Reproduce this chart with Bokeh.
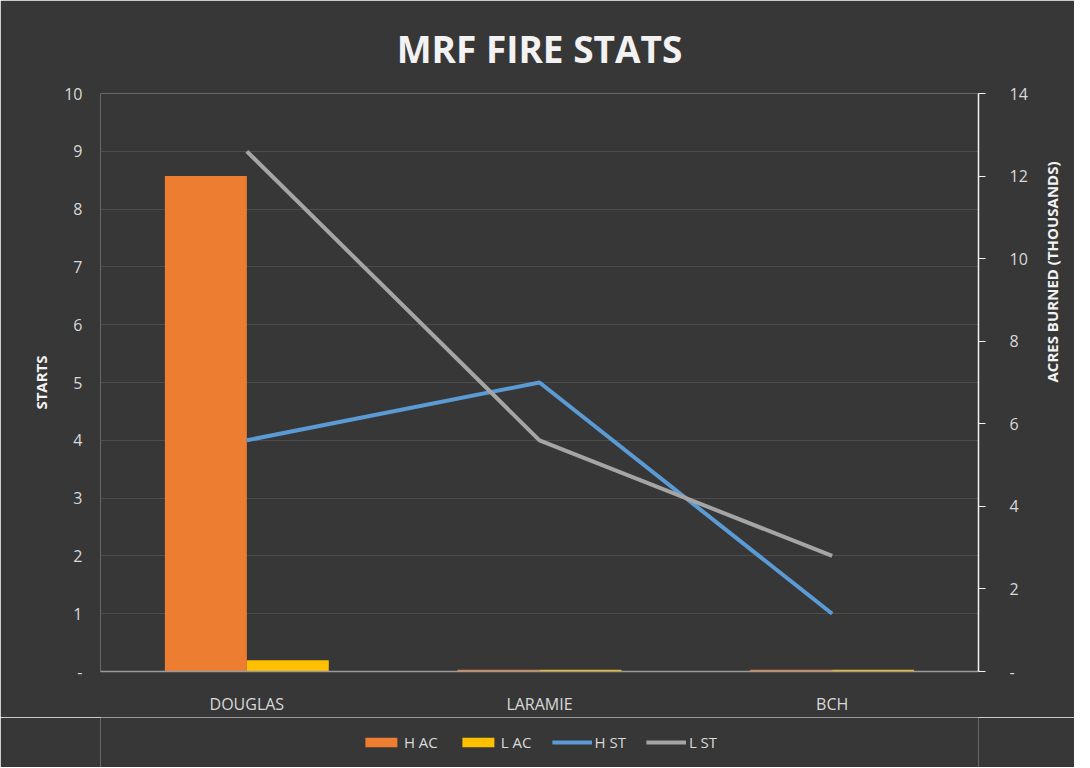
import math
from bokeh.plotting import figure
from bokeh.layouts import column
from bokeh.models import (Range1d, LinearAxis, FixedTicker, Legend, LegendItem,
                          FactorRange, ColumnDataSource)
from bokeh.transform import dodge
from bokeh.embed import file_html
from bokeh.resources import INLINE

categories = ["DOUGLAS", "LARAMIE", "BCH"]
h_ac = [12.0, 0.04, 0.04]      # thousands of acres (right axis)
l_ac = [0.27, 0.04, 0.04]
h_st = [4, 5, 1]               # starts (left axis)
l_st = [9, 4, 2]
left_ticks = [0, 1, 2, 3, 4, 5, 6, 7, 8, 9, 10]
right_ticks = [0, 2, 4, 6, 8, 10, 12, 14]
series_names = ["H AC", "L AC", "H ST", "L ST"]
series_colors = ["#ED7D31", "#FFC000", "#5B9BD5", "#A5A5A5"]

src = ColumnDataSource(dict(cat=categories, h_ac=h_ac, l_ac=l_ac, h_st=h_st, l_st=l_st))

BG = "#373737"
TXT = "#d9d9d9"
FONT = "Open Sans"


def hide_frame_lines(fig):
    fig.outline_line_color = BG
    fig.outline_line_alpha = 0
    fig.outline_line_width = 0


p = figure(frame_width=878, frame_height=578, x_range=FactorRange(*categories),
           y_range=Range1d(0, 10),
           output_backend="svg", toolbar_location=None,
           min_border_left=100, min_border_right=96, min_border_top=86, min_border_bottom=46)
p.background_fill_color = BG
p.border_fill_color = BG
hide_frame_lines(p)

p.title.text = "MRF FIRE STATS"
p.title.align = "center"
p.title.text_color = "#f2f2f2"
p.title.text_font = FONT
p.title.text_font_style = "bold"
p.title.text_font_size = "37px"
p.title.standoff = 40

p.extra_y_ranges = {"acres": Range1d(0, 14)}

# grid
p.xgrid.grid_line_color = None
p.ygrid.grid_line_color = "#4d4d4d"
p.ygrid.grid_line_width = 1
p.ygrid.ticker = FixedTicker(ticks=left_ticks[1:])

# left axis
ya = p.yaxis[0]
ya.ticker = FixedTicker(ticks=left_ticks)
ya.major_label_overrides = {0: "-"}
ya.axis_line_color = None
ya.axis_line_alpha = 0
ya.major_tick_line_color = None
ya.minor_tick_line_color = None
ya.major_label_text_color = TXT
ya.major_label_text_font = FONT
ya.major_label_text_font_size = "16px"
ya.major_label_standoff = 12
ya.axis_label = "STARTS"
ya.axis_label_text_color = "#f2f2f2"
ya.axis_label_text_font = FONT
ya.axis_label_text_font_style = "bold"
ya.axis_label_text_font_size = "15px"
ya.axis_label_standoff = 10

# right axis
ra = LinearAxis(y_range_name="acres", ticker=FixedTicker(ticks=right_ticks))
ra.major_label_overrides = {0: "-"}
ra.axis_line_color = "#f2f2f2"
ra.axis_line_width = 1.5
ra.major_tick_line_color = "#f2f2f2"
ra.major_tick_in = 0
ra.major_tick_out = 7
ra.minor_tick_line_color = None
ra.major_label_text_color = TXT
ra.major_label_text_font = FONT
ra.major_label_text_font_size = "16px"
ra.major_label_standoff = 24
ra.axis_label = "ACRES BURNED (THOUSANDS)"
ra.axis_label_text_color = "#f2f2f2"
ra.axis_label_text_font = FONT
ra.axis_label_text_font_style = "bold"
ra.axis_label_text_font_size = "15px"
ra.axis_label_standoff = 21
try:
    ra.axis_label_orientation = math.pi / 2
except Exception:
    pass
p.add_layout(ra, "right")

# x axis
xa = p.xaxis[0]
xa.axis_line_color = "#9a9a9a"
xa.axis_line_width = 1.5
xa.major_tick_line_color = None
xa.minor_tick_line_color = None
xa.major_label_text_color = TXT
xa.major_label_text_font = FONT
xa.major_label_text_font_size = "16px"
xa.major_label_standoff = 15

bw = 0.28
p.vbar(x=dodge("cat", -bw / 2, range=p.x_range), top="h_ac", width=bw, source=src,
       y_range_name="acres", fill_color=series_colors[0], line_color=None)
p.vbar(x=dodge("cat", bw / 2, range=p.x_range), top="l_ac", width=bw, source=src,
       y_range_name="acres", fill_color=series_colors[1], line_color=None)
p.line(x="cat", y="h_st", source=src, line_color=series_colors[2], line_width=4)
p.line(x="cat", y="l_st", source=src, line_color=series_colors[3], line_width=4)

# legend strip below the chart: proxy renderers with the series styles that draw
# nothing themselves (zero-height bars, single-point lines) so only swatches show
lg = figure(width=1074, height=50, x_range=Range1d(0, 1), y_range=Range1d(0, 1),
            output_backend="svg", toolbar_location=None, x_axis_type=None, y_axis_type=None,
            min_border=0, min_border_left=0, min_border_right=0,
            min_border_top=0, min_border_bottom=0)
lg.background_fill_color = BG
lg.border_fill_color = BG
hide_frame_lines(lg)
lg.grid.grid_line_color = None
g1 = lg.vbar(x=[0.5], top=[0.5], bottom=[0.5], width=0.0, fill_color=series_colors[0], line_color=None)
g2 = lg.vbar(x=[0.5], top=[0.5], bottom=[0.5], width=0.0, fill_color=series_colors[1], line_color=None)
g3 = lg.line(x=[0.5], y=[0.5], line_color=series_colors[2], line_width=4)
g4 = lg.line(x=[0.5], y=[0.5], line_color=series_colors[3], line_width=4)
legend = Legend(items=[LegendItem(label=series_names[i], renderers=[g])
                       for i, g in enumerate([g1, g2, g3, g4])],
                orientation="horizontal", location="center")
legend.background_fill_alpha = 0
legend.border_line_color = None
legend.label_text_color = TXT
legend.label_text_font = FONT
legend.label_text_font_size = "15px"
legend.glyph_width = 40
legend.glyph_height = 12
legend.label_standoff = 3
legend.spacing = 20
legend.padding = 0
legend.margin = 0
lg.add_layout(legend, "center")

page = column(p, lg, spacing=0)
open("out.html", "w").write(file_html(page, INLINE))
